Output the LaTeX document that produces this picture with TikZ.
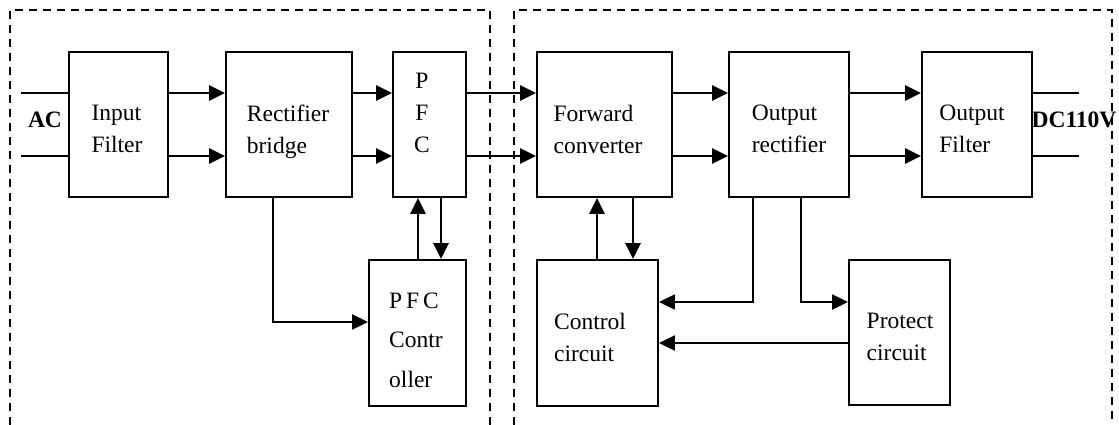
\documentclass[tikz,border=0pt]{standalone}
\usepackage{fontspec}
\setmainfont{Liberation Serif}
\usetikzlibrary{arrows.meta}
\tikzset{
  blk/.style={draw, line width=1.9pt, inner sep=0pt},
  txt/.style={inner sep=0pt, anchor=north, align=left, font=\fontsize{23.5}{32}\selectfont},
  bold/.style={inner sep=0pt, font=\fontsize{23.5}{28}\selectfont\bfseries},
  wire/.style={line width=1.9pt},
  tip/.style={-{Triangle[length=16pt,width=15pt]}},
  sig/.style={line width=2.7pt, tip},
  fbk/.style={line width=2.2pt, tip},
  zone/.style={line width=1.6pt, dash pattern=on 8pt off 6pt},
}
\begin{document}
\begin{tikzpicture}[x=1pt,y=-1pt]
\useasboundingbox (0,0) rectangle (1119,425);
\fill[white] (0,0) rectangle (1119,425);

% two dashed zones, open at the bottom
\draw[zone] (10,425) -- (10,10) -- (490,10) -- (490,425);
\draw[zone] (514,425) -- (514,10) -- (1112,10) -- (1112,425);

% blocks of the main power path
\node[blk, minimum width=99pt,  minimum height=145pt] (ifl) at (118.5,124.5) {};
\node[blk, minimum width=126pt, minimum height=145pt] (rb)  at (289,124.5) {};
\node[blk, minimum width=73pt,  minimum height=145pt] (pfc) at (429.5,124.5) {};
\node[blk, minimum width=135pt, minimum height=145pt] (fc)  at (604.5,124.5) {};
\node[blk, minimum width=120pt, minimum height=145pt] (orr) at (789,124.5) {};
\node[blk, minimum width=110pt, minimum height=145pt] (of)  at (977,124.5) {};

% control blocks
\node[blk, minimum width=97pt,  minimum height=146pt] (pfcc) at (417.5,333) {};
\node[blk, minimum width=121pt, minimum height=146pt] (cc)   at (597.5,333) {};
\node[blk, minimum width=101pt, minimum height=145pt] (pc)   at (899.5,332.5) {};

% block texts
\node[txt] (ifl-t) at (117,104.5) {Input\\Filter};
\node[txt] (rb-t)  at (288,104.5) {Rectifier\\bridge};
\node[txt, align=center] (pfc-t) at (422,72.5) {P\\F\\C};
\node[txt] (fc-t)  at (598,104.5) {Forward\\converter};
\node[txt] (orr-t) at (789,104.5) {Output\\rectifier};
\node[txt] (of-t)  at (972,104.5) {Output\\Filter};
\node[txt, font=\fontsize{23.5}{39.5}\selectfont] (pfcc-t) at (416,292.5) {P\,F\,C\\Contr\\oller};
\node[txt] (cc-t)  at (590,312.5) {Control\\circuit};
\node[txt] (pc-t)  at (900,312.5) {Protect\\circuit};

% terminals
\node[bold] (ac) at (45,119.5) {AC};
\node[bold] (dc) at (1074,120) {DC110V};

% rails of the power path
\coordinate (up) at (0,93);
\coordinate (lo) at (0,156);
\coordinate (acU) at (21,93);
\coordinate (acL) at (21,156);
\coordinate (dcU) at (1079,93);
\coordinate (dcL) at (1079,156);

\draw[wire] (acU) -- (acU -| ifl.west);
\draw[wire] (acL) -- (acL -| ifl.west);
\draw[wire] (of.east |- dcU) -- (dcU);
\draw[wire] (of.east |- dcL) -- (dcL);

\foreach \a/\b in {ifl/rb, rb/pfc, pfc/fc, fc/orr, orr/of}{
  \draw[sig] (\a.east |- up) -- (\b.west |- up);
  \draw[sig] (\a.east |- lo) -- (\b.west |- lo);
}

% PFC control loop
\coordinate (rbtap) at (273,322);
\draw[fbk] (rb.south -| rbtap) |- (pfcc.west |- rbtap);
\coordinate (pu) at (418,0);
\coordinate (pd) at (441,0);
\draw[sig] (pfcc.north -| pu) -- (pfc.south -| pu);
\draw[sig] (pfc.south -| pd) -- (pfcc.north -| pd);

% converter control loop
\coordinate (cu) at (597,0);
\coordinate (cd) at (633,0);
\draw[sig] (cc.north -| cu) -- (fc.south -| cu);
\draw[sig] (fc.south -| cd) -- (cc.north -| cd);

% feedback from the output rectifier
\coordinate (fb1) at (753,302);
\coordinate (fb2) at (801,302);
\draw[fbk] (orr.south -| fb1) |- (cc.east |- fb1);
\draw[fbk] (orr.south -| fb2) |- (pc.west |- fb2);

% protection signal
\coordinate (pr) at (0,343);
\draw[fbk] (pc.west |- pr) -- (cc.east |- pr);
\end{tikzpicture}
\end{document}
